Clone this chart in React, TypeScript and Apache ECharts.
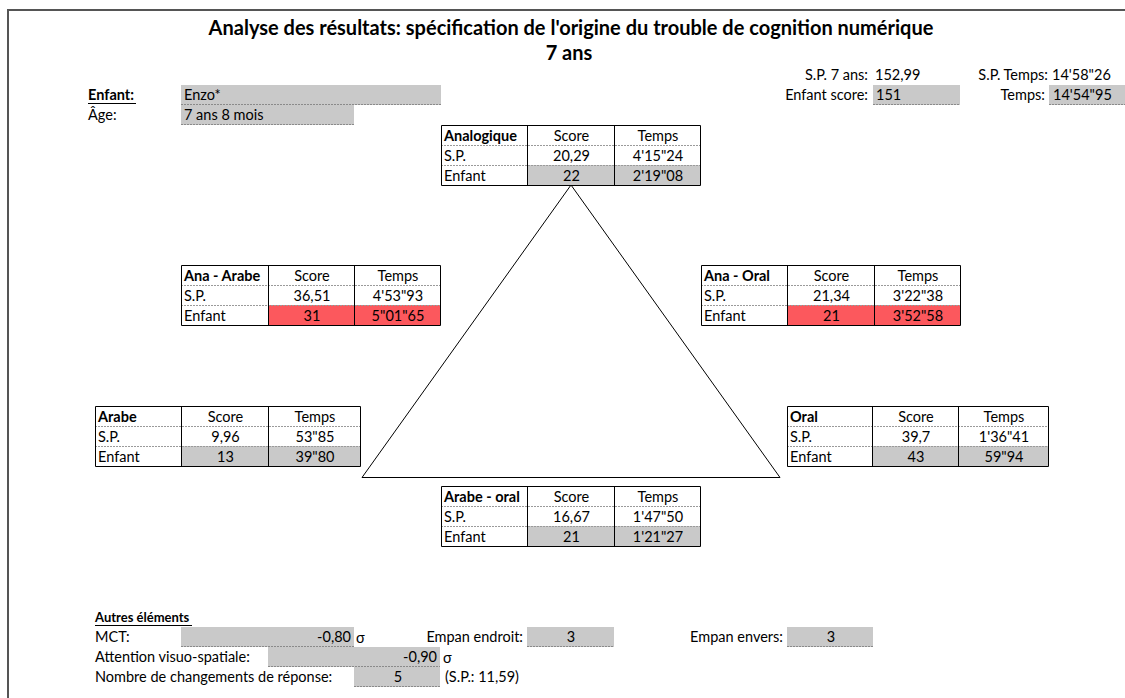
import React, { useEffect, useRef } from "react";
import * as echarts from "echarts";

// ---------- data ----------
const titleLines = [
  "Analyse des résultats: spécification de l'origine du trouble de cognition numérique",
  "7 ans",
];
const childLabels = ["Enfant:", "Âge:"];
const childValues = ["Enzo*", "7 ans 8 mois"];
const summaryLabels = ["S.P. 7 ans:", "S.P. Temps:", "Enfant score:", "Temps:"];
const summaryValues = ["152,99", "14'58\"26", "151", "14'54\"95"];

const tableNames = ["Analogique", "Ana - Arabe", "Ana - Oral", "Arabe", "Oral", "Arabe - oral"];
const headerLabels = ["Score", "Temps"];
const rowLabels = ["S.P.", "Enfant"];
const spScores = ["20,29", "36,51", "21,34", "9,96", "39,7", "16,67"];
const spTimes = ["4'15\"24", "4'53\"93", "3'22\"38", "53\"85", "1'36\"41", "1'47\"50"];
const childScores = ["22", "31", "21", "13", "43", "21"];
const childTimes = ["2'19\"08", "5\"01\"65", "3'52\"58", "39\"80", "59\"94", "1'21\"27"];
const flagged = [false, true, true, false, false, false];

const otherTitle = "Autres éléments";
const otherLabels = ["MCT:", "Empan endroit:", "Empan envers:", "Attention visuo-spatiale:", "Nombre de changements de réponse:"];
const otherValues = ["-0,80", "3", "3", "-0,90", "5"];
const otherUnits = ["σ", "", "", "σ", "(S.P.: 11,59)"];

// ---------- layout (positions only) ----------
const tableLayout = [
  { cols: [441, 527, 614, 700], top: 125 },
  { cols: [181, 268, 354, 440], top: 265 },
  { cols: [701, 787, 874, 960], top: 265 },
  { cols: [95, 181, 268, 360], top: 406 },
  { cols: [787, 872, 958, 1048], top: 406 },
  { cols: [441, 527, 614, 700], top: 486 },
];
const ROW = 20;
const FONT = "Lato";
const FS = 14.5;
const GRAY = "#c9c9c9";
const RED = "#fc585d";
const DY = -0.5;

function txt(text: string, x: number, y: number, opts: any = {}) {
  return {
    type: "text",
    z: 10,
    style: {
      text,
      x,
      y: y + DY,
      fill: "#000",
      fontFamily: FONT,
      fontSize: opts.size || FS,
      fontWeight: opts.bold ? "bold" : "normal",
      align: opts.align || "left",
      verticalAlign: "middle",
    },
  };
}
function line(x1: number, y1: number, x2: number, y2: number, stroke = "#000", dash?: number[]) {
  return {
    type: "line",
    z: 5,
    shape: { x1, y1, x2, y2 },
    style: { stroke, lineWidth: 1, lineDash: dash },
  };
}
function box(x: number, y: number, w: number, h: number, fill: string) {
  return { type: "rect", z: 1, shape: { x, y, width: w, height: h }, style: { fill } };
}
function grayBox(x: number, y: number, w: number, h: number) {
  return [box(x, y, w, h, GRAY), line(x, y + h - 0.5, x + w, y + h - 0.5, "#8a8a8a", [2, 1])];
}

function buildElements() {
  const els: any[] = [];
  // outer frame
  els.push({
    type: "rect",
    z: 0,
    shape: { x: 8, y: 10, width: 1200, height: 800 },
    style: { fill: "none", stroke: "#555", lineWidth: 2 },
  });
  // title
  els.push(txt(titleLines[0], 571, 27, { bold: true, size: 20, align: "center" }));
  els.push(txt(titleLines[1], 569, 52, { bold: true, size: 20, align: "center" }));

  // child info
  els.push(...grayBox(181, 85, 260, 20));
  els.push(...grayBox(181, 105, 173, 20));
  els.push(txt(childLabels[0], 88, 95, { bold: true }));
  els.push(line(88, 103.5, 136, 103.5));
  els.push(txt(childLabels[1], 88, 115));
  els.push(txt(childValues[0], 184, 95));
  els.push(txt(childValues[1], 184, 115));

  // summary top right
  els.push(txt(summaryLabels[0], 868, 75, { align: "right" }));
  els.push(txt(summaryValues[0], 875, 75));
  els.push(txt(summaryLabels[1], 1048, 75, { align: "right" }));
  els.push(txt(summaryValues[1], 1052, 75));
  els.push(...grayBox(873, 85, 87, 20));
  els.push(...grayBox(1049, 85, 90, 20));
  els.push(txt(summaryLabels[2], 868, 95, { align: "right" }));
  els.push(txt(summaryValues[2], 876, 95));
  els.push(txt(summaryLabels[3], 1045, 95, { align: "right" }));
  els.push(txt(summaryValues[3], 1053, 95));

  // triangle
  els.push({
    type: "polygon",
    z: 4,
    shape: { points: [[571, 185], [362, 477.5], [780, 477.5]] },
    style: { fill: "none", stroke: "#000", lineWidth: 1 },
  });

  // tables
  tableNames.forEach((name, i) => {
    const { cols, top } = tableLayout[i];
    const [c0, c1, c2, c3] = cols;
    const fill = flagged[i] ? RED : GRAY;
    els.push(box(c1, top + 2 * ROW, c3 - c1, ROW, fill));
    els.push(line(c0, top + ROW + 0.5, c3, top + ROW + 0.5, "#9a9a9a", [2, 1]));
    els.push(line(c0, top + 2 * ROW + 0.5, c3, top + 2 * ROW + 0.5, "#9a9a9a", [2, 1]));
    els.push({
      type: "rect",
      z: 6,
      shape: { x: c0 + 0.5, y: top + 0.5, width: c3 - c0, height: 3 * ROW },
      style: { fill: "none", stroke: "#000", lineWidth: 1 },
    });
    els.push(line(c1 + 0.5, top, c1 + 0.5, top + 3 * ROW));
    els.push(line(c2 + 0.5, top, c2 + 0.5, top + 3 * ROW));
    const m1 = (c1 + c2) / 2 + 1;
    const m2 = (c2 + c3) / 2 + 1;
    const y0 = top + ROW / 2 + 0.5;
    els.push(txt(name, c0 + 3, y0, { bold: true }));
    els.push(txt(headerLabels[0], m1, y0, { align: "center" }));
    els.push(txt(headerLabels[1], m2, y0, { align: "center" }));
    els.push(txt(rowLabels[0], c0 + 3, y0 + ROW));
    els.push(txt(spScores[i], m1, y0 + ROW, { align: "center" }));
    els.push(txt(spTimes[i], m2, y0 + ROW, { align: "center" }));
    els.push(txt(rowLabels[1], c0 + 3, y0 + 2 * ROW));
    els.push(txt(childScores[i], m1, y0 + 2 * ROW, { align: "center" }));
    els.push(txt(childTimes[i], m2, y0 + 2 * ROW, { align: "center" }));
  });

  // other elements
  els.push(txt(otherTitle, 95, 617, { bold: true, size: 13 }));
  els.push(line(95, 625.5, 192, 625.5));
  els.push(...grayBox(181, 627, 173, 20));
  els.push(txt(otherLabels[0], 95, 637));
  els.push(txt(otherValues[0], 351, 637, { align: "right" }));
  els.push(txt(otherUnits[0], 356, 638));
  els.push(...grayBox(527, 627, 87, 20));
  els.push(txt(otherLabels[1], 523, 637, { align: "right" }));
  els.push(txt(otherValues[1], 571, 637, { align: "center" }));
  els.push(...grayBox(787, 627, 86, 20));
  els.push(txt(otherLabels[2], 783, 637, { align: "right" }));
  els.push(txt(otherValues[2], 831, 637, { align: "center" }));
  els.push(...grayBox(268, 647, 172, 20));
  els.push(txt(otherLabels[3], 95, 657));
  els.push(txt(otherValues[3], 437, 657, { align: "right" }));
  els.push(txt(otherUnits[3], 443, 658));
  els.push(...grayBox(354, 667, 86, 20));
  els.push(txt(otherLabels[4], 95, 677));
  els.push(txt(otherValues[4], 398, 677, { align: "center" }));
  els.push(txt(otherUnits[4], 445, 677));
  return els;
}

export default function App() {
  const ref = useRef<HTMLDivElement>(null);
  useEffect(() => {
    if (!ref.current) return;
    const chart = echarts.init(ref.current, undefined, { renderer: "svg" });
    chart.setOption({
      animation: false,
      backgroundColor: "#fff",
      graphic: { elements: buildElements() },
    });
    return () => chart.dispose();
  }, []);
  return (
    <div
      ref={ref}
      style={{ position: "fixed", left: 0, top: 0, width: 1125, height: 698, background: "#fff" }}
    />
  );
}
